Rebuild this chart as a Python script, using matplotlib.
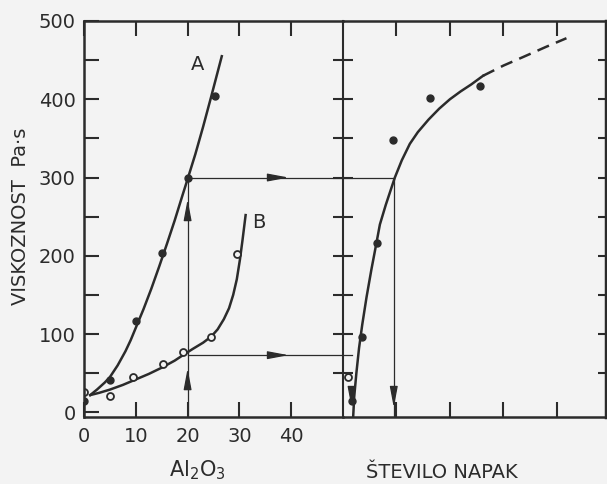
import matplotlib.pyplot as plt

# -------- DATA --------
# left panel: Al2O3 (%) vs viscosity (Pa.s)
a_x = [0, 5, 10, 15, 20, 25.3]
a_y = [14, 41, 117, 204, 300, 404]
b_x = [0, 5, 9.5, 15.3, 19.1, 24.6, 29.5]
b_y = [26, 21, 45, 62, 77, 96, 202]

curve_a_x = [1.2, 2.5, 4, 5, 6.5, 8, 9, 10, 11.5, 13, 14.5, 16, 17.5, 19, 20, 21.5, 23, 24.5, 26.6]
curve_a_y = [22, 29, 38, 45, 60, 78, 92, 108, 132, 158, 186, 215, 245, 277, 298, 330, 365, 402, 455]
curve_b_x = [1.2, 3, 5, 7.5, 10, 12.5, 15, 17.5, 19.1, 21, 23, 24.6, 25.8, 27, 28, 28.8, 29.5, 30.1, 30.6, 31.2]
curve_b_y = [22, 25, 29, 35, 42, 49, 57, 66, 73, 81, 89, 97, 106, 119, 133, 150, 170, 195, 220, 252]

# right panel: number of defects vs viscosity
d_x = [0.16, 0.35, 0.63, 0.94, 1.63, 2.56]
d_y = [14, 96, 216, 348, 401, 417]
d_open_x = [0.1]
d_open_y = [45]
curve_d_x = [0.19, 0.21, 0.25, 0.30, 0.36, 0.44, 0.53, 0.63, 0.69, 0.8, 0.97, 1.1, 1.25, 1.4,
             1.6, 1.8, 2.0, 2.2, 2.4, 2.62]
curve_d_y = [-6, 20, 50, 82, 112, 147, 182, 218, 240, 265, 300, 322, 343, 358,
             374, 388, 400, 410, 419, 430]
dash_d_x = [2.62, 3.0, 3.37, 3.8, 4.18]
dash_d_y = [430, 443, 454, 467, 478]

# reading lines
read_x = 20
read_hi = 300
read_lo = 73
defect_hi = 0.95
defect_lo = 0.16

ink = '#2b2b2b'
bg = '#f3f3f3'

fig = plt.figure(figsize=(6.07, 4.84), dpi=100, facecolor=bg)
W, H = 607, 484
ax1 = fig.add_axes([84 / W, 67 / H, 259 / W, 396 / H], facecolor=bg)
ax2 = fig.add_axes([343 / W, 67 / H, 263 / W, 396 / H], facecolor='none')

for ax in (ax1, ax2):
    ax.set_ylim(-6, 500)
    for s in ax.spines.values():
        s.set_color(ink)
        s.set_linewidth(1.8)

ax1.set_xlim(0, 50)
ax2.set_xlim(0, 4.92)
ax2.spines['left'].set_visible(False)
ax2.spines['right'].set_linewidth(2.5)
ax1.spines['right'].set_linewidth(1.5)

# -------- LEFT PANEL --------
ax1.plot(curve_a_x, curve_a_y, color=ink, lw=1.8)
ax1.plot(curve_b_x, curve_b_y, color=ink, lw=1.8)
ax1.plot(a_x, a_y, 'o', color=ink, ms=5)
ax1.plot(b_x, b_y, 'o', mfc=bg, mec=ink, mew=1.3, ms=5)
ax1.text(22, 444, 'A', fontsize=14, color=ink, ha='center', va='center')
ax1.text(33.8, 243, 'B', fontsize=14, color=ink, ha='center', va='center')

thin = dict(color=ink, lw=0.9)
ax1.plot([read_x, read_x], [-6, read_hi], **thin)
ax1.plot([read_x, 50], [read_hi, read_hi], **thin)
ax1.plot([read_x, 50], [read_lo, read_lo], **thin)

head = dict(arrowstyle='-|>,head_length=1.6,head_width=0.3', color=ink, lw=0.9,
            shrinkA=0, shrinkB=0, mutation_scale=8)
ax1.annotate('', xy=(read_x, 56), xytext=(read_x, 40), arrowprops=head)
ax1.annotate('', xy=(read_x, 272), xytext=(read_x, 255), arrowprops=head)
ax1.annotate('', xy=(39.5, read_hi), xytext=(35.5, read_hi), arrowprops=head)
ax1.annotate('', xy=(39.5, read_lo), xytext=(35.5, read_lo), arrowprops=head)

ax1.set_xticks([0, 10, 20, 30, 40])
ax1.set_yticks([0, 100, 200, 300, 400, 500])
ax1.set_yticks([50, 150, 250, 350, 450], minor=True)
ax1.tick_params(axis='both', which='both', direction='in', length=11, width=1.5,
                color=ink, labelcolor=ink, labelsize=14, top=True, right=False)
ax1.tick_params(axis='x', pad=7)
ax1.tick_params(axis='y', pad=6)

# middle line ticks (crossing)
ax2.set_yticks([50, 100, 150, 200, 250, 300, 350, 400, 450])
ax2.tick_params(axis='y', direction='inout', length=14, width=1.5, color=ink,
                left=True, right=False, labelleft=False)
axr = ax2.twinx()
axr.set_ylim(-6, 500)
axr.set_yticks([50, 100, 150, 200, 250, 300, 350, 400, 450])
axr.tick_params(axis='y', direction='in', length=6, width=1.5, color=ink, labelright=False)
for s in axr.spines.values():
    s.set_visible(False)

# -------- RIGHT PANEL --------
ax2.plot(curve_d_x, curve_d_y, color=ink, lw=1.8)
ax2.plot(dash_d_x, dash_d_y, color=ink, lw=1.8, ls=(0, (5, 3)))
ax2.plot(d_x, d_y, 'o', color=ink, ms=5)
ax2.plot(d_open_x, d_open_y, 'o', mfc=bg, mec=ink, mew=1.3, ms=5)

ax2.plot([0, defect_hi], [read_hi, read_hi], **thin)
ax2.plot([defect_hi, defect_hi], [-6, read_hi], **thin)
ax2.plot([0, defect_lo], [read_lo, read_lo], **thin)
ax2.annotate('', xy=(defect_hi, 6), xytext=(defect_hi, 26), arrowprops=head)
ax2.annotate('', xy=(defect_lo, 6), xytext=(defect_lo, 24), arrowprops=head)

ax2.set_xticks([1, 2, 3, 4])
ax2.tick_params(axis='x', direction='in', length=11, width=1.5, color=ink,
                top=True, labelbottom=False)

# -------- LABELS --------
fig.text(21 / W, 1 - 216 / H, 'VISKOZNOST  Pa·s', rotation=90, fontsize=14,
         color=ink, ha='center', va='center')
fig.text(197 / W, 1 - 470 / H, 'Al$_2$O$_3$', fontsize=15, color=ink,
         ha='center', va='center')
fig.text(442 / W, 1 - 472 / H, 'ŠTEVILO NAPAK', fontsize=14, color=ink,
         ha='center', va='center')

fig.savefig('out.png', dpi=100, facecolor=bg)
